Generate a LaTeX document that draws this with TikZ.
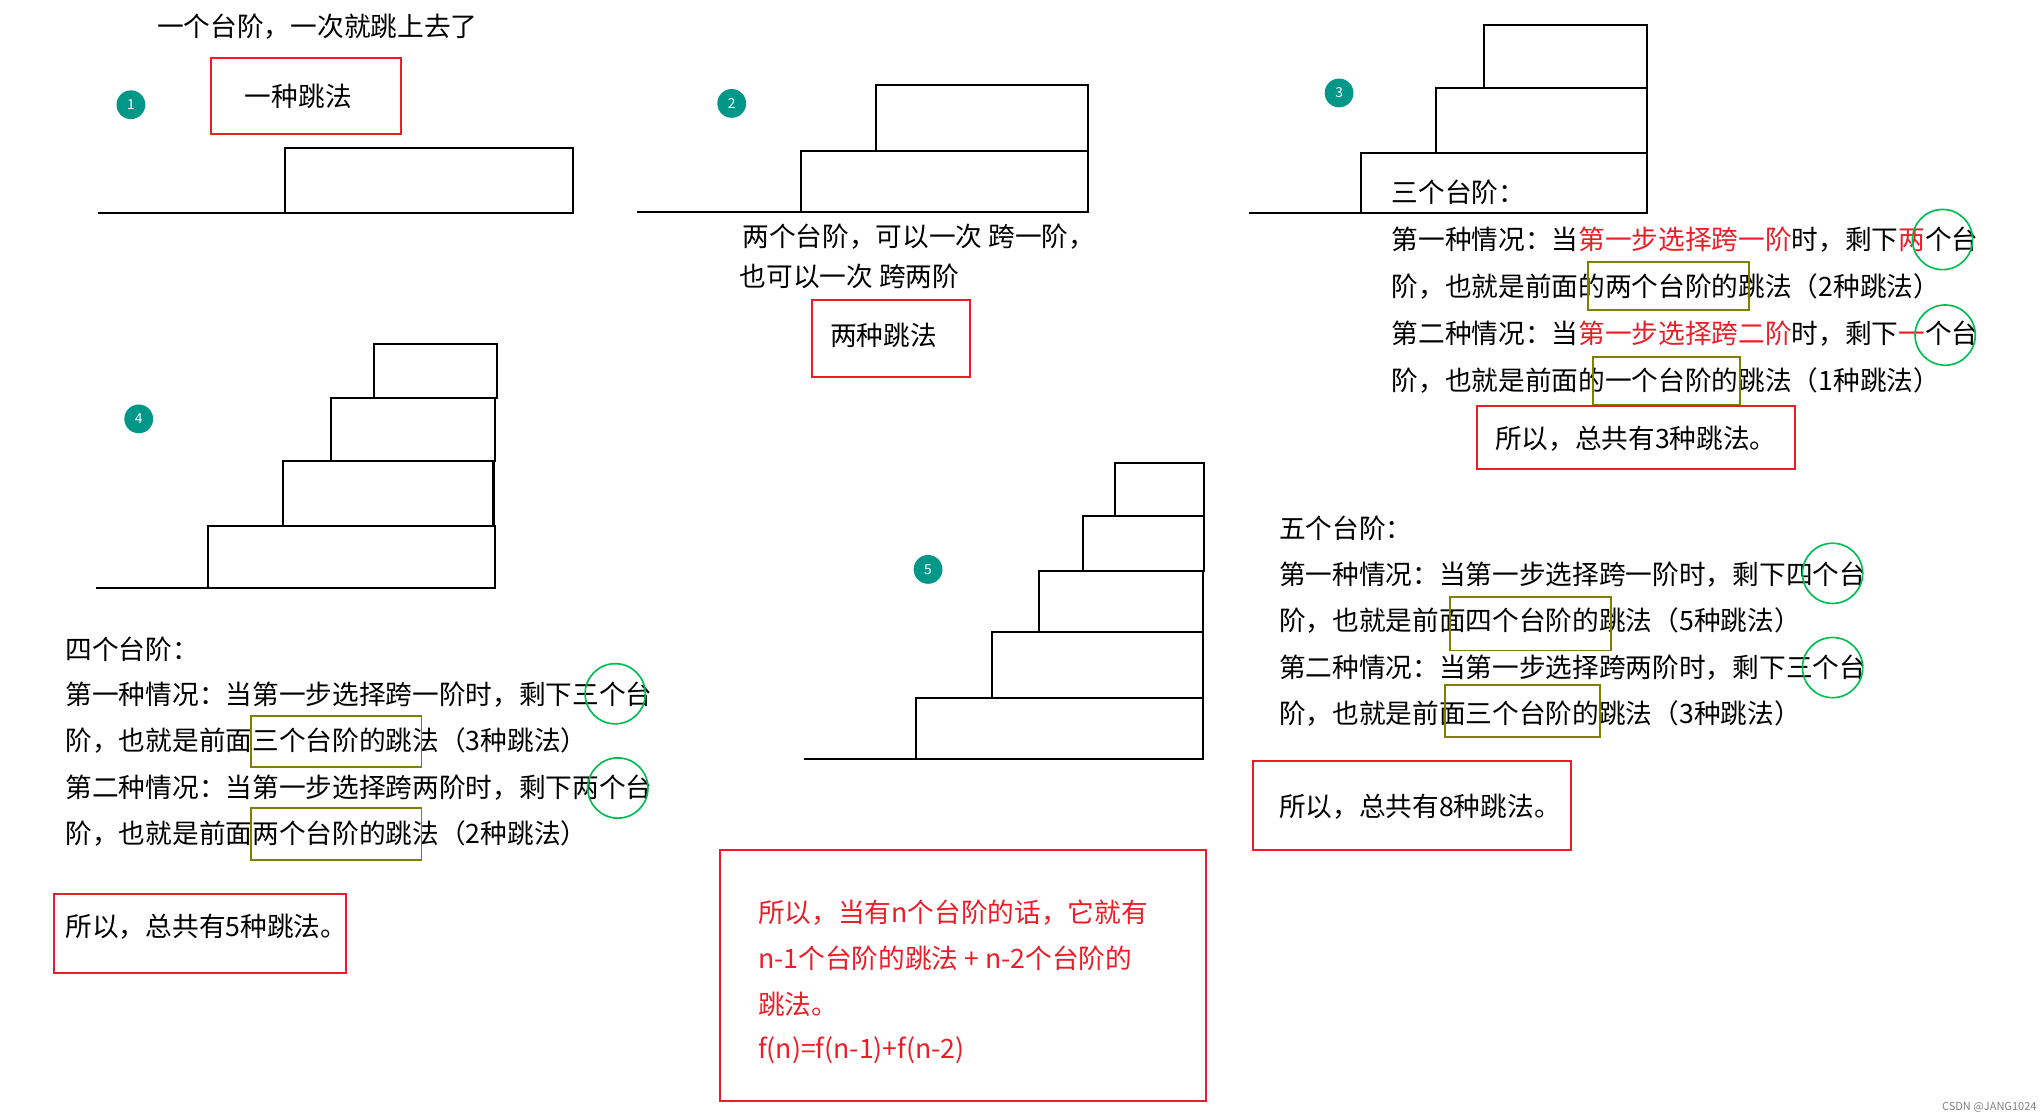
\documentclass[tikz,border=0pt]{standalone}
\usepackage{fontspec}
\setmainfont{Noto Sans CJK SC}
\begin{document}
\begin{tikzpicture}[x=0.05cm,y=-0.05cm,
  txt/.style={anchor=west,inner sep=0pt,font=\fontsize{29}{34}\selectfont},
  st/.style={draw=black,line width=2.2pt},
  rbox/.style={draw=myred,line width=2.2pt},
  obox/.style={draw=olive,line width=2pt},
  gcirc/.style={draw=mygreen,line width=1.8pt,circle,minimum size=46*0.05cm,inner sep=0pt},
  num/.style={circle,fill=myteal,text=white,minimum size=22*0.05cm,inner sep=0pt,font=\fontsize{15}{15}\selectfont}]
\definecolor{myred}{RGB}{235,30,40}
\definecolor{myteal}{RGB}{0,150,136}
\definecolor{olive}{RGB}{128,128,0}
\definecolor{mygreen}{RGB}{0,190,80}
\useasboundingbox (0,0) rectangle (1560,854);
% 1
\node[txt] (t1) at (120,20) {一个台阶，一次就跳上去了};
\node[num] (n1) at (100,80) {1};
\draw[rbox] (161,44) rectangle (306,102);
\node[txt] (b1) at (187,74) {一种跳法};
\draw[st] (75,163) -- (218,163);
\draw[st] (218,113) rectangle (438,163);
% 2
\node[num] (n2) at (559,79) {2};
\draw[st] (487,162) -- (612,162);
\draw[st] (612,115) rectangle (831,162);
\draw[st] (669,65) rectangle (831,115);
\node[txt] (t2a) at (567,181) {两个台阶，可以一次 跨一阶，};
\node[txt] (t2b) at (565,211) {也可以一次 跨两阶};
\draw[rbox] (620,229) rectangle (741,288);
\node[txt] (b2) at (634,256) {两种跳法};
% 3
\node[num] (n3) at (1023,71) {3};
\draw[st] (954,163) -- (1040,163);
\draw[st] (1040,117) rectangle (1258,163);
\draw[st] (1097,67) rectangle (1258,117);
\draw[st] (1134,19) rectangle (1258,67);
\node[txt] (t3) at (1063,147) {三个台阶：};
\node[txt] (t3a) at (1063,183) {第一种情况：当\textcolor{myred}{第一步选择跨一阶}时，剩下\textcolor{myred}{两}个台};
\node[txt] (t3b) at (1063,219) {阶，也就是前面的两个台阶的跳法（2种跳法）};
\node[txt] (t3c) at (1063,255) {第二种情况：当\textcolor{myred}{第一步选择跨二阶}时，剩下\textcolor{myred}{一}个台};
\node[txt] (t3d) at (1063,291) {阶，也就是前面的一个台阶的跳法（1种跳法）};
\node[gcirc] (g3a) at (1484,183) {};
\node[gcirc] (g3b) at (1486,256) {};
\draw[obox] (1213,200) rectangle (1336,237);
\draw[obox] (1217,273) rectangle (1329,309);
\draw[rbox] (1128,310) rectangle (1371,358);
\node[txt] (b3) at (1142,335) {所以，总共有3种跳法。};
% 4
\node[num] (n4) at (106,320) {4};
\draw[st] (73,449) -- (160,449);
\draw[st] (159,402) rectangle (378,449);
\draw[st] (216,352) rectangle (377,402);
\draw[st] (253,304) rectangle (378,352);
\draw[st] (286,263) rectangle (380,304);
\node[txt] (t4) at (50,496) {四个台阶：};
\node[txt] (t4a) at (50,531) {第一种情况：当第一步选择跨一阶时，剩下三个台};
\node[txt] (t4b) at (50,566) {阶，也就是前面三个台阶的跳法（3种跳法）};
\node[txt] (t4c) at (50,602) {第二种情况：当第一步选择跨两阶时，剩下两个台};
\node[txt] (t4d) at (50,637) {阶，也就是前面两个台阶的跳法（2种跳法）};
\node[gcirc] (g4a) at (470,530) {};
\node[gcirc] (g4b) at (472,602) {};
\draw[obox] (192,547) rectangle (322,586);
\draw[obox] (192,617) rectangle (322,657);
\draw[rbox] (41,683) rectangle (264,743);
\node[txt] (b4) at (50,708) {所以，总共有5种跳法。};
% 5
\node[num] (n5) at (709,435) {5};
\draw[st] (614,580) -- (805,580);
\draw[st] (700,533) rectangle (919,580);
\draw[st] (758,483) rectangle (919,533);
\draw[st] (794,436) rectangle (919,483);
\draw[st] (827,394) rectangle (920,436);
\draw[st] (852,354) rectangle (920,394);
\node[txt] (t5) at (977,404) {五个台阶：};
\node[txt] (t5a) at (977,439) {第一种情况：当第一步选择跨一阶时，剩下四个台};
\node[txt] (t5b) at (977,474) {阶，也就是前面四个台阶的跳法（5种跳法）};
\node[txt] (t5c) at (977,510) {第二种情况：当第一步选择跨两阶时，剩下三个台};
\node[txt] (t5d) at (977,545) {阶，也就是前面三个台阶的跳法（3种跳法）};
\node[gcirc] (g5a) at (1400,438) {};
\node[gcirc] (g5b) at (1400,510) {};
\draw[obox] (1108,456) rectangle (1231,497);
\draw[obox] (1104,523) rectangle (1222,563);
\draw[rbox] (957,581) rectangle (1200,649);
\node[txt] (b5) at (977,616) {所以，总共有8种跳法。};
% conclusion
\draw[rbox] (550,649) rectangle (921,841);
\begin{scope}[every node/.append style={text=myred}]
\node[txt] (c1) at (579,697) {所以，当有n个台阶的话，它就有};
\node[txt] (c2) at (579,732) {n-1个台阶的跳法 + n-2个台阶的};
\node[txt] (c3) at (579,767) {跳法。};
\node[txt] (c4) at (579,802) {f(n)=f(n-1)+f(n-2)};
\end{scope}
\node[anchor=east,inner sep=0pt,text=gray,font=\fontsize{12}{12}\selectfont] (wm) at (1556,846) {CSDN @JANG1024};
\end{tikzpicture}
\end{document}
